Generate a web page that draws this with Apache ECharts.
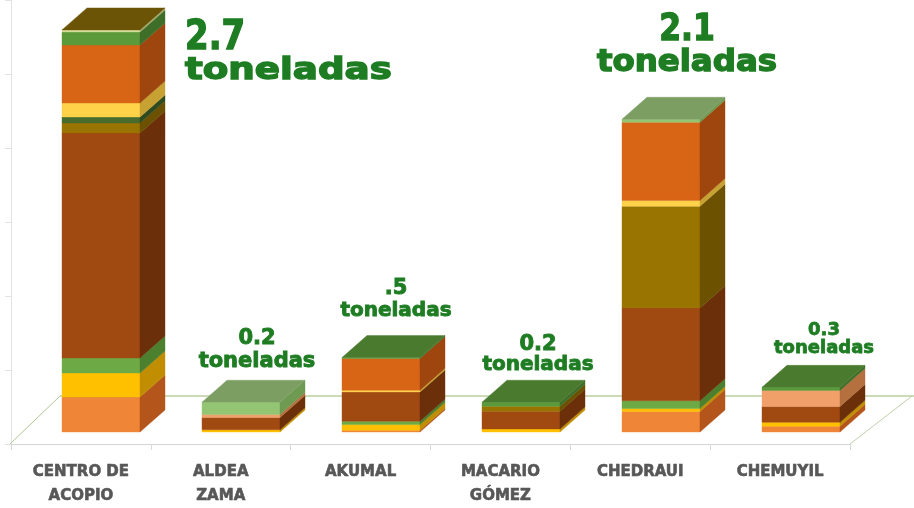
<!DOCTYPE html>
<html>
<head>
<meta charset="utf-8">
<script src="https://cdn.jsdelivr.net/npm/echarts@6/dist/echarts.min.js"></script>
<style>
  html, body { margin: 0; padding: 0; background: #ffffff; }
  #chart { width: 914px; height: 508px; }
</style>
</head>
<body>
<div id="chart"></div>
<script>
// Sitios de acopio
const categories = ['CENTRO DE\nACOPIO', 'ALDEA\nZAMA', 'AKUMAL', 'MACARIO\nGÓMEZ', 'CHEDRAUI', 'CHEMUYIL'];

// Toneladas por capa (de abajo hacia arriba), en el orden de categories
const naranjaClaro  = [0.235, 0,     0.011, 0,     0.138, 0.038];
const amarillo      = [0.161, 0.015, 0.039, 0.020, 0.020, 0.027];
const verde         = [0.101, 0,     0.022, 0,     0.052, 0];
const cafe          = [1.511, 0.082, 0.197, 0.120, 0.623, 0.107];
const ocre          = [0.067, 0,     0,     0.033, 0.683, 0];
const verdeOscuro   = [0.040, 0,     0,     0,     0,     0];
const salmon        = [0,     0.021, 0,     0,     0,     0.107];
const amarilloClaro = [0.094, 0,     0.011, 0,     0.039, 0];
const naranjaOscuro = [0.390, 0,     0.214, 0,     0.525, 0];
const verdeClaro    = [0,     0.082, 0,     0,     0.020, 0];
const verdeMedio    = [0.087, 0,     0.006, 0.027, 0,     0.021];
const tapa          = [0.014, 0,     0,     0,     0,     0];

// Total que se rotula sobre cada columna
const totalLabels = ['2.7', '0.2', '.5', '0.2', '2.1', '0.3'];
const unitLabel = 'toneladas';

// Capas con sus colores: cara frontal, cara lateral y cara superior
const layers = [
  { name: 'naranja claro',  values: naranjaClaro,  front: '#EE8537', side: '#B4561C', top: '#C96A2A' },
  { name: 'amarillo',       values: amarillo,      front: '#FFC000', side: '#C08E00', top: '#D9A300' },
  { name: 'verde',          values: verde,         front: '#6DAA45', side: '#4C7F2E', top: '#5A8F38' },
  { name: 'café',           values: cafe,          front: '#A04A12', side: '#6B300A', top: '#7E3A0E' },
  { name: 'ocre',           values: ocre,          front: '#9A7400', side: '#6B5100', top: '#7A5C00' },
  { name: 'verde oscuro',   values: verdeOscuro,   front: '#476C2C', side: '#2F4A1E', top: '#3A5A24' },
  { name: 'salmón',         values: salmon,        front: '#F2A06A', side: '#B5703F', top: '#CC8656' },
  { name: 'amarillo claro', values: amarilloClaro, front: '#FFD24A', side: '#C7A232', top: '#D9B33E' },
  { name: 'naranja oscuro', values: naranjaOscuro, front: '#D86416', side: '#9F450E', top: '#B3520F' },
  { name: 'verde claro',    values: verdeClaro,    front: '#93C572', side: '#6E9A52', top: '#7C9E62' },
  { name: 'verde medio',    values: verdeMedio,    front: '#5A9A3A', side: '#3E6E28', top: '#4A7A2E' },
  { name: 'tapa',           values: tapa,          front: '#D5DC98', side: '#A3A86A', top: '#6B5406' }
];

// Perspectiva de las columnas
const DEPTH_X = 25;
const DEPTH_Y = 22;
const BAR_RATIO = 0.557;

// Estilo de los rótulos de total (desplazamientos respecto a la arista superior frontal)
const labelStyles = [
  { align: 'left',   dx: 84, numBase: 23,  numSize: 40, numScale: 0.85, unitBase: 52,  unitSize: 30, unitScale: 1.24, weight: 1.4 },
  { align: 'center', dx: 16, numBase: -56, numSize: 21, numScale: 1.0,  unitBase: -33, unitSize: 21, unitScale: 1.0,  weight: 0.9 },
  { align: 'center', dx: 15, numBase: -61, numSize: 21, numScale: 1.0,  unitBase: -40, unitSize: 20, unitScale: 1.0,  weight: 0.9 },
  { align: 'center', dx: 17, numBase: -50, numSize: 21, numScale: 1.0,  unitBase: -30, unitSize: 20, unitScale: 1.0,  weight: 0.9 },
  { align: 'center', dx: 26, numBase: -76, numSize: 37, numScale: 0.85, unitBase: -45, unitSize: 30, unitScale: 1.08, weight: 1.4 },
  { align: 'center', dx: 23, numBase: -51, numSize: 18, numScale: 1.0,  unitBase: -33, unitSize: 18, unitScale: 1.0,  weight: 0.8 }
];

// Acumulados para apilar las capas
const n = categories.length;
const cumulative = new Array(n).fill(0);
const topLayer = new Array(n).fill(-1);
layers.forEach((layer, li) => {
  layer.values.forEach((v, i) => { if (v > 0) topLayer[i] = li; });
});
const totals = new Array(n).fill(0);
layers.forEach(layer => layer.values.forEach((v, i) => { totals[i] += v; }));

function makeBarSeries(layer, li) {
  const data = layer.values.map((v, i) => {
    const start = cumulative[i];
    const end = start + v;
    cumulative[i] = end;
    return [i, start, end, topLayer[i] === li ? 1 : 0];
  });
  return {
    type: 'custom',
    name: layer.name,
    xAxisIndex: 0,
    yAxisIndex: 0,
    z: 3,
    silent: true,
    encode: { x: 0, y: [1, 2] },
    data: data,
    renderItem: function (params, api) {
      const idx = api.value(0);
      const y0 = api.value(1);
      const y1 = api.value(2);
      if (y1 - y0 <= 0) return null;
      const base = api.coord([idx, y0]);
      const top = api.coord([idx, y1]);
      const bw = api.size([1, 0])[0] * BAR_RATIO;
      const xl = base[0] - bw / 2;
      const xr = base[0] + bw / 2;
      const yb = base[1];
      const yt = top[1];
      const children = [
        {
          type: 'rect',
          shape: { x: xl, y: yt, width: bw, height: yb - yt },
          style: { fill: layer.front, stroke: layer.front, lineWidth: 0.4 }
        },
        {
          type: 'polygon',
          shape: { points: [[xr, yt], [xr + DEPTH_X, yt - DEPTH_Y], [xr + DEPTH_X, yb - DEPTH_Y], [xr, yb]] },
          style: { fill: layer.side, stroke: layer.side, lineWidth: 0.4 }
        }
      ];
      if (api.value(3) === 1) {
        children.push({
          type: 'polygon',
          shape: { points: [[xl, yt], [xl + DEPTH_X, yt - DEPTH_Y], [xr + DEPTH_X, yt - DEPTH_Y], [xr, yt]] },
          style: { fill: layer.top, stroke: layer.top, lineWidth: 0.4 }
        });
      }
      return { type: 'group', children: children };
    }
  };
}

const barSeries = layers.map(makeBarSeries);

// Rótulos "N toneladas" sobre cada columna
const labelSeries = {
  type: 'custom',
  name: 'rótulos',
  xAxisIndex: 0,
  yAxisIndex: 0,
  z: 5,
  silent: true,
  encode: { x: 0, y: 1 },
  data: totals.map((t, i) => [i, t]),
  renderItem: function (params, api) {
    const i = api.value(0);
    const p = api.coord([i, api.value(1)]);
    const s = labelStyles[i];
    const x = p[0] + s.dx;
    const font = size => 'bold ' + size + 'px "DejaVu Sans"';
    const green = '#1E7D22';
    return {
      type: 'group',
      children: [
        {
          type: 'text',
          x: x, y: p[1] + s.numBase - 0.36 * s.numSize,
          scaleX: s.numScale,
          style: {
            text: totalLabels[i], font: font(s.numSize), fill: green,
            stroke: green, lineWidth: s.weight, align: s.align, verticalAlign: 'middle'
          }
        },
        {
          type: 'text',
          x: x, y: p[1] + s.unitBase - 0.36 * s.unitSize,
          scaleX: s.unitScale,
          style: {
            text: unitLabel, font: font(s.unitSize), fill: green,
            stroke: green, lineWidth: s.weight, align: s.align, verticalAlign: 'middle'
          }
        }
      ]
    };
  }
};

// Piso en perspectiva: arista trasera y aristas laterales
const floorSeries = {
  type: 'custom',
  name: 'piso',
  xAxisIndex: 1,
  yAxisIndex: 1,
  z: 1,
  silent: true,
  data: [[0, 0]],
  renderItem: function (params, api) {
    const c = params.coordSys;
    const fy = c.y + c.height;
    const backY = fy - 48;
    return {
      type: 'group',
      children: [
        { type: 'line', shape: { x1: c.x - 1, y1: fy, x2: c.x + 49, y2: backY }, style: { stroke: '#AFC893', lineWidth: 1 } },
        { type: 'line', shape: { x1: c.x + 49, y1: backY, x2: c.x + c.width + 64, y2: backY }, style: { stroke: '#98B872', lineWidth: 1 } },
        { type: 'line', shape: { x1: c.x + c.width, y1: fy, x2: c.x + c.width + 62, y2: backY }, style: { stroke: '#BFD0A8', lineWidth: 1 } }
      ]
    };
  }
};

const chart = echarts.init(document.getElementById('chart'), null, { renderer: 'canvas' });
chart.setOption({
  animation: false,
  backgroundColor: '#ffffff',
  grid: [
    { left: 31, right: 43, top: 15, bottom: 76 },
    { left: 11, right: 64, top: 0, bottom: 63 }
  ],
  xAxis: [
    { type: 'category', gridIndex: 0, data: categories, show: false },
    {
      type: 'category', gridIndex: 1, data: categories, boundaryGap: true,
      axisLine: { show: true, lineStyle: { color: '#D4D4D4', width: 1 } },
      axisTick: { show: true, length: 6, lineStyle: { color: '#D9D9D9' } },
      axisLabel: {
        interval: 0, margin: 16, color: '#575757', fontFamily: 'DejaVu Sans',
        fontWeight: 'bold', fontSize: 15, lineHeight: 24,
        textBorderColor: '#575757', textBorderWidth: 0.6
      }
    }
  ],
  yAxis: [
    { type: 'value', gridIndex: 0, min: 0, max: 2.8, show: false },
    {
      type: 'value', gridIndex: 1, min: 0, max: 3, interval: 0.5,
      axisLine: { show: true, lineStyle: { color: '#E3E3E3', width: 1 } },
      axisTick: { show: true, length: 6, lineStyle: { color: '#E3E3E3' } },
      axisLabel: { show: false },
      splitLine: { show: false }
    }
  ],
  series: [floorSeries].concat(barSeries, [labelSeries])
});
</script>
</body>
</html>
